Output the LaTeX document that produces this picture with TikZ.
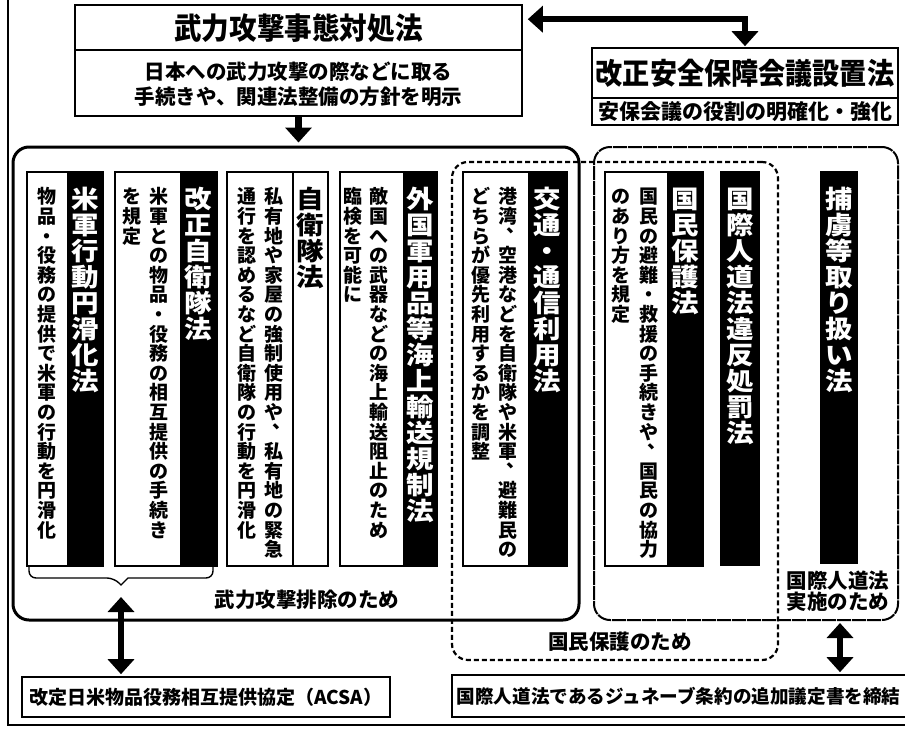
\documentclass[tikz,border=0pt]{standalone}
\usepackage{fontspec}
\setmainfont{Noto Sans CJK JP}
\newfontfamily\jpN{Noto Sans CJK JP}
\newfontfamily\jpC{Noto Sans CJK JP}[FakeStretch=0.92]
\newfontfamily\jpW{Noto Sans CJK JP}[FakeStretch=1.1]
\usetikzlibrary{arrows.meta,calc}

\makeatletter
\def\VT@end{\VT@end@}
\newcommand\VT[2]{\vbox{\baselineskip=#1\lineskiplimit=-\maxdimen\lineskip=0pt\VT@loop#2\VT@end}}
\def\VT@loop#1{\ifx#1\VT@end\else\VT@char{#1}\expandafter\VT@loop\fi}
\def\VT@char#1{\ifx#1、\VT@comma\else\hbox to 1em{\vrule height .88em depth .12em width 0pt\hss#1\hss}\fi}
\def\VT@comma{\hbox to 1em{\vrule height .88em depth .12em width 0pt\kern.4em\raise.55em\rlap{、}\hss}}
\makeatother

\begin{document}
\begin{tikzpicture}[x=1pt,y=-1pt,
  hbox/.style={draw, line width=1.6pt, fill=white, inner sep=0pt},
  colbox/.style={draw, line width=1.4pt, fill=white},
  ttl/.style={text=white, font=\jpW\bfseries\fontsize{25}{25}\selectfont, inner sep=0pt, anchor=north},
  ttlb/.style={ttl, text=black},
  dsc/.style={font=\jpN\bfseries\fontsize{19}{19}\selectfont, inner sep=0pt, anchor=north},
  lbl/.style={font=\jpN\bfseries\fontsize{20.5}{20.5}\selectfont, inner sep=0pt},
  fat/.style={line width=6.5pt, arrows={Triangle[width=26pt,length=15pt]-Triangle[width=26pt,length=15pt]}},
  fatone/.style={line width=6.5pt, arrows={-Triangle[width=26pt,length=15pt]}},
  solidgrp/.style={draw, line width=3pt, rounded corners=16pt, inner sep=0pt},
  dashgrp/.style={draw, line width=2.2pt, dash pattern=on 5pt off 3pt, rounded corners=16pt, inner sep=0pt},
  roughgrp/.style={draw, line width=2pt, dash pattern=on 14pt off 1pt, rounded corners=16pt, inner sep=0pt},
]
\clip (0,0) rectangle (905,731);
\fill[white] (0,0) rectangle (905,731);

% frame
\draw[line width=1.3pt] (8,0) -- (8,725) -- (905,725);

% group boxes
\node[solidgrp, minimum width=566pt, minimum height=473pt] (haijo) at (296,383.5) {};
\node[dashgrp, minimum width=326pt, minimum height=498pt] (hogo) at (615,411) {};
\node[roughgrp, minimum width=304pt, minimum height=473pt] (jindo) at (746,383.5) {};

% top box
\node[hbox, minimum width=447pt, minimum height=111pt] (taisho) at (298.5,60.5) {};
\draw[line width=1.2pt] (taisho.west |- 0,50) -- (taisho.east |- 0,50);
\node[font=\jpC\bfseries\fontsize{30}{30}\selectfont, inner sep=0pt] (taishoT) at (298.5,28) {武力攻撃事態対処法};
\node[lbl] (taishoS1) at (298.5,72) {日本への武力攻撃の際などに取る};
\node[lbl] (taishoS2) at (298.5,97) {手続きや、関連法整備の方針を明示};

% right top box
\node[hbox, minimum width=306pt, minimum height=77pt] (anpo) at (745,86.5) {};
\draw[line width=1.2pt] (anpo.west |- 0,98) -- (anpo.east |- 0,98);
\node[font=\jpC\bfseries\fontsize{29.5}{29.5}\selectfont, inner sep=0pt] (anpoT) at (745,73) {改正安全保障会議設置法};
\node[lbl, font=\jpN\bfseries\fontsize{21}{21}\selectfont] (anpoS) at (745,112) {安保会議の役割の明確化・強化};

% arrows at top
\draw[fat, shorten >=1pt] ($(taisho.north east)+(5,15)$) -| (anpo.north);
\draw[fatone, shorten >=3pt] (taisho.south) -- (taisho.south |- haijo.north);

% column 1
\draw[colbox] (27,172) rectangle (103,566);
\fill (67,172) rectangle (103,566);
\node[ttl] (c1t) at (85,186) {\VT{26pt}{米軍行動円滑化法}};
\node[dsc] (c1d) at (47,187) {\VT{19.6pt}{物品・役務の提供で米軍の行動を円滑化}};

% column 2
\draw[colbox] (115,172) rectangle (217,566);
\fill (180,172) rectangle (217,566);
\node[ttl] (c2t) at (198.5,186) {\VT{26pt}{改正自衛隊法}};
\node[dsc] (c2d1) at (159,187) {\VT{19.6pt}{米軍との物品・役務の相互提供の手続き}};
\node[dsc] (c2d2) at (132,187) {\VT{19.6pt}{を規定}};

% column 3
\draw[colbox] (227,172) rectangle (328,566);
\draw[line width=1.4pt] (293,172) -- (293,566);
\node[ttlb] (c3t) at (310.5,186) {\VT{26pt}{自衛隊法}};
\node[dsc] (c3d1) at (274,187) {\VT{19.6pt}{私有地や家屋の強制使用や、私有地の緊急}};
\node[dsc] (c3d2) at (247,187) {\VT{19.6pt}{通行を認めるなど自衛隊の行動を円滑化}};

% column 4
\draw[colbox] (340,172) rectangle (437,566);
\fill (403,172) rectangle (437,566);
\node[ttl] (c4t) at (420,186) {\VT{26pt}{外国軍用品等海上輸送規制法}};
\node[dsc] (c4d1) at (379,187) {\VT{19.6pt}{敵国への武器などの海上輸送阻止のため}};
\node[dsc] (c4d2) at (353,187) {\VT{19.6pt}{臨検を可能に}};

% column 5
\draw[colbox] (463,172) rectangle (567,566);
\fill (528,172) rectangle (567,566);
\node[ttl] (c5t) at (547.5,186) {\VT{26pt}{交通・通信利用法}};
\node[dsc] (c5d1) at (508,187) {\VT{19.6pt}{港湾、空港などを自衛隊や米軍、避難民の}};
\node[dsc] (c5d2) at (481,187) {\VT{19.6pt}{どちらが優先利用するかを調整}};

% column 6
\draw[colbox] (605,172) rectangle (703,566);
\fill (667,172) rectangle (703,566);
\node[ttl] (c6t) at (685,186) {\VT{26pt}{国民保護法}};
\node[dsc] (c6d1) at (649,187) {\VT{19.6pt}{国民の避難・救援の手続きや、国民の協力}};
\node[dsc] (c6d2) at (621,187) {\VT{19.6pt}{のあり方を規定}};

% column 7, 8
\fill (720,171) rectangle (760,566);
\node[ttl] (c7t) at (740,186) {\VT{26pt}{国際人道法違反処罰法}};
\fill (820,171) rectangle (858,564);
\node[ttl] (c8t) at (839,186) {\VT{26pt}{捕虜等取り扱い法}};

% brace
\coordinate (bracetip) at (121,585);
\draw[line width=1.4pt, rounded corners=7pt] (29,566) |- (114,578) [sharp corners] -- (bracetip) -- (128,578) [rounded corners=7pt] -| (213,566);

% labels
\node[lbl] (haijoL) at (307,600) {武力攻撃排除のため};
\node[lbl] (hogoL) at (620,642) {国民保護のため};
\node[lbl] (jindoL1) at (838,581) {国際人道法};
\node[lbl] (jindoL2) at (838,602) {実施のため};

% bottom boxes
\node[hbox, minimum width=368pt, minimum height=40pt, font=\jpN\bfseries\fontsize{19}{19}\selectfont] (acsa) at (206,697) {改定日米物品役務相互提供協定（ACSA）};
\node[hbox, minimum width=463pt, minimum height=42pt] (geneva) at (683.5,696) {};
\node[font=\jpN\bfseries\fontsize{18.6}{18.6}\selectfont, inner sep=0pt] (genevaT) at (678.5,696) {国際人道法であるジュネーブ条約の追加議定書を締結};

% bottom arrows
\draw[fat, shorten <=12pt, shorten >=2pt] (bracetip) -- (bracetip |- acsa.north);
\draw[fat, shorten <=2pt, shorten >=2pt] ([xshift=94pt]jindo.south) -- ([xshift=94pt]jindo.south |- geneva.north);
\end{tikzpicture}
\end{document}
